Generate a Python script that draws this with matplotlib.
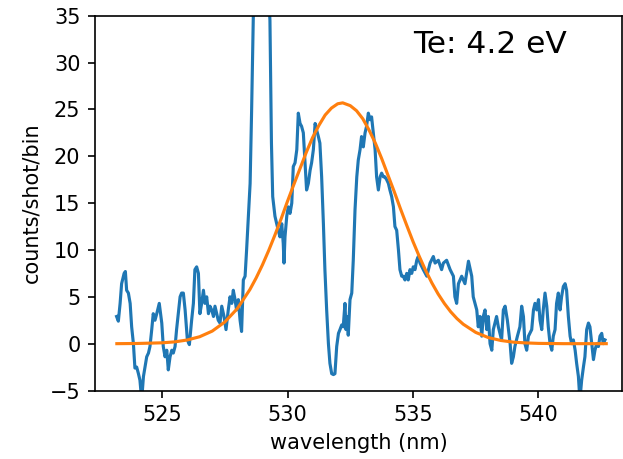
import matplotlib
matplotlib.use("Agg")
import matplotlib.pyplot as plt

wavelength = [523.19, 523.26, 523.33, 523.39, 523.49, 523.54, 523.59, 523.66, 523.73, 523.79,
              523.86, 523.92, 523.99, 524.06, 524.12, 524.19, 524.26, 524.32, 524.39, 524.46,
              524.52, 524.59, 524.65, 524.72, 524.79, 524.89, 524.99, 525.05, 525.12, 525.19,
              525.25, 525.32, 525.39, 525.45, 525.52, 525.58, 525.65, 525.72, 525.78, 525.85,
              525.92, 526.01, 526.09, 526.18, 526.25, 526.31, 526.38, 526.45, 526.51, 526.58,
              526.65, 526.71, 526.78, 526.85, 526.91, 526.98, 527.05, 527.11, 527.18, 527.24,
              527.31, 527.38, 527.47, 527.55, 527.64, 527.71, 527.78, 527.84, 527.91, 527.97,
              528.04, 528.11, 528.17, 528.24, 528.31, 528.37, 528.44, 528.51, 528.57, 528.64,
              528.72, 528.82, 528.92, 529.02, 529.12, 529.22, 529.30, 529.36, 529.41, 529.50,
              529.63, 529.70, 529.77, 529.83, 529.86, 529.90, 529.97, 530.03, 530.10, 530.17,
              530.23, 530.30, 530.37, 530.43, 530.50, 530.56, 530.63, 530.70, 530.76, 530.83,
              530.90, 530.96, 531.03, 531.10, 531.16, 531.23, 531.29, 531.36, 531.43, 531.49,
              531.56, 531.63, 531.69, 531.76, 531.83, 531.89, 531.96, 532.03, 532.09, 532.16,
              532.22, 532.29, 532.33, 532.38, 532.42, 532.49, 532.56, 532.62, 532.69, 532.76,
              532.82, 532.89, 532.95, 533.02, 533.09, 533.15, 533.22, 533.29, 533.35, 533.42,
              533.49, 533.55, 533.62, 533.69, 533.75, 533.82, 533.88, 533.95, 534.02, 534.08,
              534.15, 534.22, 534.28, 534.35, 534.42, 534.48, 534.55, 534.61, 534.68, 534.75,
              534.81, 534.88, 534.95, 535.01, 535.08, 535.15, 535.21, 535.28, 535.41, 535.55,
              535.68, 535.81, 535.88, 536.01, 536.14, 536.21, 536.34, 536.48, 536.61, 536.67,
              536.74, 536.81, 536.94, 537.07, 537.21, 537.34, 537.40, 537.54, 537.60, 537.67,
              537.74, 537.80, 537.87, 537.94, 538.00, 538.07, 538.14, 538.20, 538.33, 538.40,
              538.53, 538.60, 538.67, 538.76, 538.87, 538.93, 539.00, 539.06, 539.16, 539.26,
              539.33, 539.40, 539.46, 539.53, 539.60, 539.73, 539.80, 539.86, 539.93, 540.00,
              540.06, 540.13, 540.19, 540.26, 540.33, 540.39, 540.46, 540.53, 540.59, 540.66,
              540.72, 540.79, 540.86, 540.92, 540.99, 541.06, 541.12, 541.19, 541.26, 541.32,
              541.39, 541.46, 541.52, 541.59, 541.65, 541.72, 541.79, 541.85, 541.92, 541.99,
              542.05, 542.12, 542.19, 542.25, 542.32, 542.39, 542.45, 542.52, 542.58, 542.65]
counts = [2.9, 2.4, 4.3, 6.4, 7.5, 7.7, 5.7, 5.4, 4.3, 1.8,
          0.0, -2.6, -2.5, -3.2, -3.9, -6.0, -3.5, -2.5, -1.4, -1.0,
          -0.3, 1.5, 3.2, 2.5, 3.2, 4.3, 2.2, -0.3, -1.4, -0.7,
          -2.8, -1.4, -0.7, -1.0, -0.3, 1.5, 3.2, 5.0, 5.4, 5.4,
          3.6, 0.4, -0.1, 2.5, 4.3, 7.9, 8.2, 7.5, 3.2, 4.3,
          5.7, 4.3, 5.0, 3.2, 4.0, 3.6, 2.9, 4.0, 3.2, 2.5,
          2.2, 4.0, 2.9, 1.5, 3.6, 5.0, 4.3, 5.7, 4.7, 3.6,
          4.7, 2.5, 1.3, 6.8, 7.2, 10.0, 13.6, 17.1, 24.9, 35.5,
          46.0, 58.0, 62.0, 55.0, 46.0, 39.0, 34.5, 21.4, 15.7, 13.6,
          12.1, 11.4, 12.8, 10.7, 8.6, 11.4, 13.6, 14.6, 13.9, 15.0,
          18.9, 19.3, 20.7, 24.6, 23.5, 23.2, 22.5, 19.3, 16.4, 17.1,
          18.5, 19.3, 20.7, 23.5, 22.8, 22.1, 21.4, 17.8, 12.8, 7.9,
          3.6, 0.0, -2.1, -3.2, -3.3, -3.2, -0.3, 1.1, 1.5, 2.0,
          1.8, 4.3, 1.5, 2.9, 0.9, 4.7, 5.4, 8.9, 14.3, 17.8,
          19.6, 20.7, 22.1, 21.0, 22.5, 23.2, 24.6, 23.9, 24.2, 22.5,
          20.7, 17.8, 16.4, 17.8, 18.2, 17.8, 17.8, 17.5, 17.1, 16.4,
          15.7, 14.6, 12.5, 12.1, 10.0, 7.9, 7.2, 7.2, 6.8, 7.5,
          6.8, 7.9, 7.5, 8.2, 7.9, 8.9, 9.3, 8.6, 7.9, 7.2,
          8.6, 9.3, 8.6, 8.9, 7.9, 8.6, 8.9, 7.9, 7.2, 5.0,
          4.3, 6.4, 7.2, 6.4, 8.8, 7.2, 5.0, 3.6, 1.8, 2.9,
          0.8, 2.9, 3.6, 1.5, 2.9, 0.0, -0.7, 1.5, 2.9, 1.8,
          0.4, 3.6, 4.0, 2.5, 0.0, -2.1, -1.4, -0.3, 0.8, 1.8,
          4.0, 2.9, 0.0, -0.7, 0.8, 1.5, 3.6, 4.3, 3.6, 4.7,
          2.5, 1.5, 3.6, 5.4, 4.0, 1.8, 0.0, -0.7, 0.8, 1.5,
          4.3, 5.4, 3.6, 5.0, 6.1, 6.4, 5.7, 2.9, 0.8, 0.0,
          0.4, -0.7, -2.1, -3.5, -6.0, -3.9, -2.5, -1.4, 1.5, 2.2,
          1.8, 0.0, -1.7, -0.7, 0.0, -0.3, 0.8, 1.1, 0.0, 0.4]

# fitted profile
fit_wavelength = [523.2, 524.0, 525.0, 525.5, 526.0, 526.5, 527.0, 527.5, 528.0, 528.5,
                  528.75, 529.0, 529.25, 529.5, 529.75, 530.0, 530.25, 530.5, 530.75, 531.0,
                  531.25, 531.5, 531.75, 532.0, 532.2, 532.5, 532.75, 533.0, 533.25, 533.5,
                  533.75, 534.0, 534.25, 534.5, 534.75, 535.0, 535.25, 535.5, 535.75, 536.0,
                  536.25, 536.5, 536.75, 537.0, 537.5, 538.0, 538.5, 539.0, 539.5, 540.0,
                  541.0, 542.0, 542.7]
fit_counts = [0.0, 0.02, 0.09, 0.19, 0.39, 0.74, 1.34, 2.31, 3.74, 5.77,
              7.01, 8.4, 9.94, 11.6, 13.35, 15.2, 16.97, 18.7, 20.43, 22.0,
              23.29, 24.4, 25.14, 25.6, 25.7, 25.4, 24.86, 24.0, 22.79, 21.4,
              19.77, 18.0, 16.24, 14.4, 12.63, 10.9, 9.31, 7.83, 6.49, 5.31,
              4.29, 3.41, 2.68, 2.08, 1.2, 0.65, 0.34, 0.16, 0.08, 0.03,
              0.0, 0.0, 0.0]

te_label = "Te: 4.2 eV"

fig = plt.figure(figsize=(623 / 150, 459 / 150), dpi=150)
ax = fig.add_axes([0.1525, 0.1492, 0.846, 0.8166])

ax.plot(wavelength, counts, color="#1f77b4", lw=1.5)
ax.plot(fit_wavelength, fit_counts, color="#ff7f0e", lw=1.5)

ax.set_xlim(522.33, 543.33)
ax.set_ylim(-5, 35)
ax.set_xticks([525, 530, 535, 540])
ax.set_yticks(range(-5, 36, 5))
ax.set_xlabel("wavelength (nm)")
ax.set_ylabel("counts/shot/bin")
ax.text(535, 31, te_label, fontsize=15)

fig.savefig("out.png", dpi=150)
